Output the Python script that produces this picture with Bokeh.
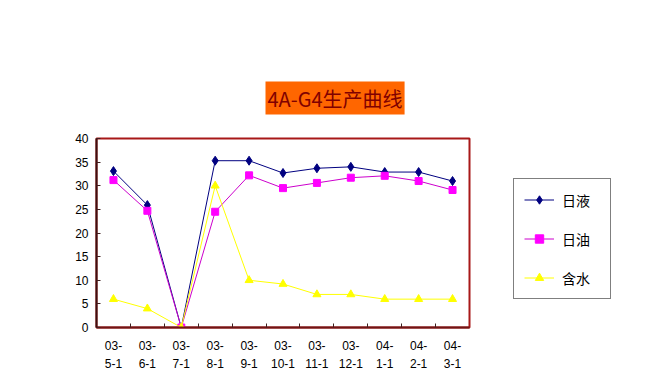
from bokeh.plotting import figure
from bokeh.layouts import row
from bokeh.models import FixedTicker, Legend, LegendItem, Range1d, Title
from bokeh.embed import file_html
from bokeh.resources import INLINE

categories = ["03-\n5-1", "03-\n6-1", "03-\n7-1", "03-\n8-1", "03-\n9-1", "03-\n10-1",
              "03-\n11-1", "03-\n12-1", "04-\n1-1", "04-\n2-1", "04-\n3-1"]
daily_liquid = [33.1, 25.9, 0, 35.3, 35.3, 32.7, 33.7, 34.0, 32.9, 32.9, 31.0]
daily_oil = [31.2, 24.7, 0, 24.5, 32.2, 29.5, 30.6, 31.7, 32.1, 31.0, 29.1]
water_cut = [6, 4, 0, 30, 10, 9.2, 7, 7, 6, 6, 6]
y_ticks = [0, 5, 10, 15, 20, 25, 30, 35, 40]
title_text = "4A-G4生产曲线"
series_names = ["日液", "日油", "含水"]

FONT = "Noto Sans CJK SC"
NUMFONT = "Liberation Sans"
xs = [i + 0.5 for i in range(len(categories))]
series = [daily_liquid, daily_oil, water_cut]

STY = [
    dict(line_color="#000080", marker="diamond", size=9, fill_color="#000080", mline="#000080"),
    dict(line_color="#cc00cc", marker="square", size=7, fill_color="#ff00ff", mline="#ff00ff"),
    dict(line_color="#ffff00", marker="triangle", size=8, fill_color="#ffff00", mline="#ffff00"),
]

p = figure(width=471, height=381, output_backend="svg", toolbar_location=None,
           x_range=Range1d(0, len(categories)), y_range=Range1d(0, 40),
           min_border_left=96, min_border_right=2, min_border_top=138, min_border_bottom=54)
p.background_fill_color = "white"
p.border_fill_color = "white"
p.outline_line_color = "#a81818"
p.outline_line_width = 2
p.xgrid.visible = False
p.ygrid.visible = False

p.xaxis.ticker = FixedTicker(ticks=xs, minor_ticks=list(range(1, len(categories))))
p.xaxis.major_label_overrides = {x: c for x, c in zip(xs, categories)}
p.xaxis.major_tick_line_color = None
p.xaxis.major_tick_in = 0
p.xaxis.major_tick_out = 0
p.xaxis.minor_tick_in = 4
p.xaxis.minor_tick_out = 0
p.xaxis.minor_tick_line_color = "#402020"
p.xaxis.axis_line_color = "#701414"
p.xaxis.axis_line_width = 2
p.xaxis.major_label_text_font = NUMFONT
p.xaxis.major_label_text_font_size = "12px"
p.xaxis.major_label_text_line_height = 1.33
p.xaxis.major_label_text_color = "black"
p.xaxis.major_label_standoff = 11

p.yaxis.ticker = FixedTicker(ticks=y_ticks)
p.yaxis.axis_line_color = "#3c1010"
p.yaxis.axis_line_width = 2
p.yaxis.major_tick_line_color = "#402020"
p.yaxis.major_tick_out = 0
p.yaxis.major_tick_in = 4
p.yaxis.minor_tick_line_color = None
p.yaxis.major_label_text_font = NUMFONT
p.yaxis.major_label_text_font_size = "12px"
p.yaxis.major_label_text_color = "black"
p.yaxis.major_label_standoff = 8

for vals, s in zip(series, STY):
    p.line(xs, vals, line_color=s["line_color"], line_width=1)
    p.scatter(xs, vals, marker=s["marker"], size=s["size"], fill_color=s["fill_color"],
              line_color=s["mline"])

spacer = Title(text=" ", text_font_size="20px", standoff=0)
p.add_layout(spacer, "above")
title = Title(text=title_text, align="left", offset=169, text_font=FONT, text_font_size="20px",
              text_font_style="normal", text_color="#800000",
              background_fill_color="#ff6600", background_fill_alpha=1, padding=2, standoff=0)
p.add_layout(title, "above")

# legend panel: a separate axis-less figure (its ranges keep the series themselves out of view)
p2 = figure(width=185, height=381, output_backend="svg", toolbar_location=None,
            x_range=Range1d(100, 101), y_range=Range1d(100, 101), min_border=0)
p2.axis.visible = False
p2.grid.visible = False
p2.outline_line_color = None
p2.background_fill_color = "white"
p2.border_fill_color = "white"

items = []
for name, vals, s in zip(series_names, series, STY):
    lr = p2.line(xs, vals, line_color=s["line_color"], line_width=1)
    mr = p2.scatter(xs, vals, marker=s["marker"], size=s["size"], fill_color=s["fill_color"],
                    line_color=s["mline"])
    items.append(LegendItem(label=name, renderers=[lr, mr]))

legend = Legend(items=items, location=(42, 28), orientation="vertical")
legend.border_line_color = "black"
legend.border_line_width = 1
legend.background_fill_color = "white"
legend.background_fill_alpha = 1
legend.padding = 10
legend.margin = 0
legend.spacing = 18
legend.label_height = 21
legend.glyph_height = 21
legend.glyph_width = 30
legend.label_standoff = 8
legend.label_width = 38
legend.label_text_font = FONT
legend.label_text_font_size = "14px"
legend.label_text_color = "black"
p2.add_layout(legend)

layout = row(p, p2, spacing=0)
open("out.html", "w").write(file_html(layout, INLINE))
